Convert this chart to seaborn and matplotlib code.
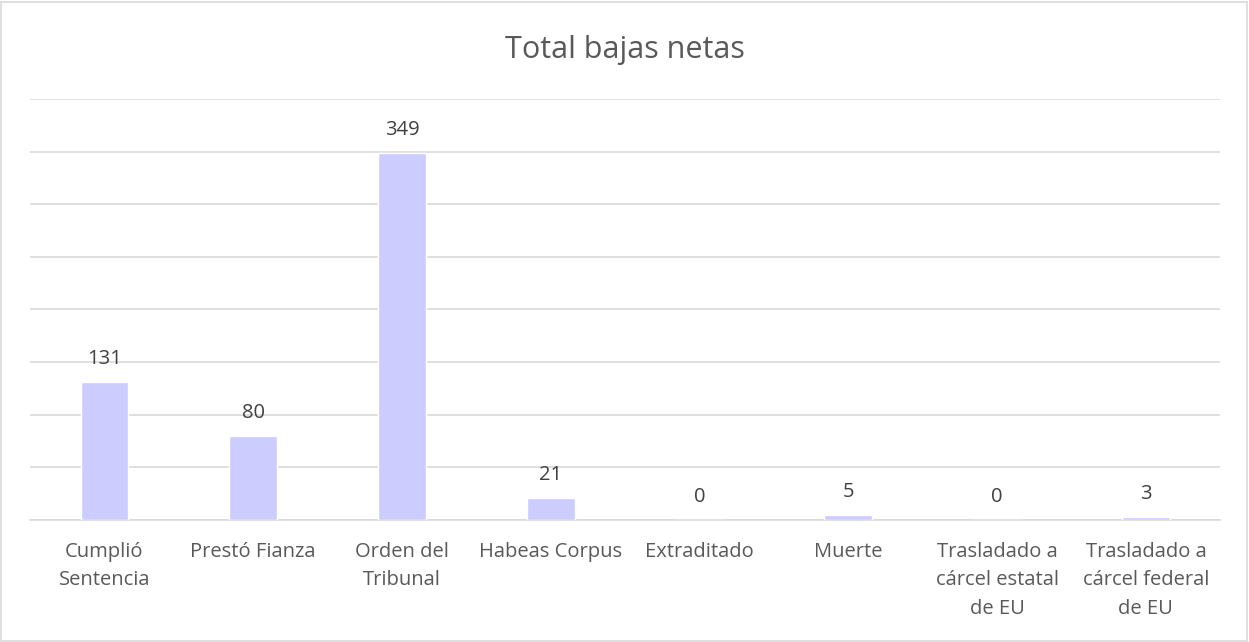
import matplotlib
matplotlib.use("Agg")
import matplotlib.pyplot as plt
import seaborn as sns
import pandas as pd
from matplotlib.patches import Rectangle

# data
categorias = ["Cumplió\nSentencia", "Prestó Fianza", "Orden del\nTribunal", "Habeas Corpus",
              "Extraditado", "Muerte", "Trasladado a\ncárcel estatal\nde EU",
              "Trasladado a\ncárcel federal\nde EU"]
bajas = [131, 80, 349, 21, 0, 5, 0, 3]

df = pd.DataFrame({"categoria": categorias, "bajas": bajas})

sns.set_theme(style="white")
plt.rcParams['font.family'] = ['Open Sans', 'DejaVu Sans']

fig = plt.figure(figsize=(12.49, 6.42), dpi=100)
ax = fig.add_axes([0.024, 0.19, 0.953, 0.656])

sns.barplot(data=df, x="categoria", y="bajas", color="#CCCCFF", saturation=1,
            width=0.32, ax=ax, zorder=3)

ax.set_ylim(0, 400)
ax.set_yticks(range(0, 401, 50))
ax.yaxis.grid(True, color="#D9D9D9", linewidth=1.2, zorder=0)
ax.xaxis.grid(False)
ax.set_yticklabels([])
ax.tick_params(axis="y", length=0)
ax.tick_params(axis="x", length=0, pad=16, labelsize=14.5, labelcolor="#595959")
for lbl in ax.get_xticklabels():
    lbl.set_linespacing(1.55)
for s in ["left", "right", "top"]:
    ax.spines[s].set_visible(False)
ax.spines["bottom"].set_color("#D9D9D9")
ax.spines["bottom"].set_linewidth(1.2)
ax.set_xlabel("")
ax.set_ylabel("")

for i, v in enumerate(bajas):
    ax.annotate(str(v), (i, v), xytext=(0, 13), textcoords="offset points",
                ha="center", va="baseline", fontsize=14.5, color="#404040")

fig.text(0.5, 0.922, "Total bajas netas", ha="center", va="center",
         fontsize=22, color="#595959")

fig.patches.append(Rectangle((0.001, 0.002), 0.997, 0.995, transform=fig.transFigure,
                             fill=False, edgecolor="#D9D9D9", linewidth=1.2))

fig.savefig("out.png", dpi=100)
